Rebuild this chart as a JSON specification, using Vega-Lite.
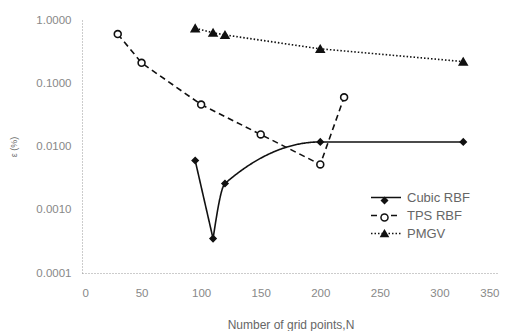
{
  "$schema": "https://vega.github.io/schema/vega-lite/v6.json",
  "width": 417,
  "height": 253,
  "autosize": {"type": "none"},
  "padding": {"left": 82, "top": 20, "right": 11, "bottom": 58},
  "background": "white",
  "config": {
    "view": {"stroke": null},
    "font": "Liberation Sans",
    "axis": {"grid": false, "ticks": false, "domainColor": "#999", "domainDash": [1, 2], "domainWidth": 1, "labelColor": "#888", "labelFontSize": 11.5, "titleColor": "#666", "titleFontSize": 12, "titleFontWeight": "normal"}
  },
  "data": {
    "values": [
      {"series": "Cubic RBF", "N": 95, "err": 0.006},
      {"series": "Cubic RBF", "N": 110, "err": 0.00035},
      {"series": "Cubic RBF", "N": 120, "err": 0.0026},
      {"series": "Cubic RBF", "N": 200, "err": 0.0118},
      {"series": "Cubic RBF", "N": 320, "err": 0.0118},
      {"series": "TPS RBF", "N": 30, "err": 0.6},
      {"series": "TPS RBF", "N": 50, "err": 0.21},
      {"series": "TPS RBF", "N": 100, "err": 0.046},
      {"series": "TPS RBF", "N": 150, "err": 0.0155},
      {"series": "TPS RBF", "N": 200, "err": 0.0052},
      {"series": "TPS RBF", "N": 220, "err": 0.06},
      {"series": "PMGV", "N": 95, "err": 0.74},
      {"series": "PMGV", "N": 110, "err": 0.63},
      {"series": "PMGV", "N": 120, "err": 0.58},
      {"series": "PMGV", "N": 200, "err": 0.35},
      {"series": "PMGV", "N": 320, "err": 0.22}
    ]
  },
  "encoding": {
    "x": {"field": "N", "type": "quantitative", "scale": {"domain": [0, 350], "nice": false}, "axis": {"values": [0, 50, 100, 150, 200, 250, 300, 350], "title": "Number of grid points,N", "labelPadding": 14, "titleY": 46}},
    "y": {"field": "err", "type": "quantitative", "scale": {"type": "log", "domain": [0.0001, 1], "nice": false}, "axis": {"values": [0.0001, 0.001, 0.01, 0.1, 1], "format": ".4f", "title": "ε (%)", "titleFontSize": 9, "labelPadding": 11, "titleX": -64}}
  },
  "layer": [
    {
      "transform": [{"filter": "datum.series === 'Cubic RBF' && datum.N <= 110"}],
      "mark": {"type": "line", "color": "#111", "strokeWidth": 1.6},
      "encoding": {
        "strokeDash": {"field": "series", "type": "nominal", "scale": {"domain": ["Cubic RBF", "TPS RBF", "PMGV"], "range": [[1, 0], [6, 4], [1.5, 2]]}, "legend": {"title": null, "orient": "none", "legendX": 288, "legendY": 169, "symbolType": "M-1,0H3", "symbolSize": 225, "symbolStrokeWidth": 1.5, "symbolStrokeColor": "#111", "labelColor": "#666", "labelFontSize": 13, "rowPadding": 2, "labelOffset": 20}}
      }
    },
    {
      "transform": [{"filter": "datum.series === 'Cubic RBF' && datum.N >= 110"}],
      "mark": {"type": "line", "interpolate": "monotone", "color": "#111", "strokeWidth": 1.6},
      "encoding": {
        "strokeDash": {"field": "series", "type": "nominal"}
      }
    },
    {
      "transform": [{"filter": "datum.series !== 'Cubic RBF'"}],
      "mark": {"type": "line", "color": "#111", "strokeWidth": 1.6},
      "encoding": {
        "strokeDash": {"field": "series", "type": "nominal"},
        "detail": {"field": "series"}
      }
    },
    {
      "mark": {"type": "point", "stroke": "#111", "strokeWidth": 1.6, "opacity": 1},
      "encoding": {
        "shape": {"field": "series", "type": "nominal", "sort": ["Cubic RBF", "TPS RBF", "PMGV"], "scale": {"range": ["diamond", "circle", "triangle-up"]}, "legend": {"title": null, "orient": "none", "legendX": 296, "legendY": 174, "symbolSize": 45, "symbolStrokeColor": "#111", "symbolStrokeWidth": 1.5, "symbolOpacity": 1, "symbolFillColor": {"expr": "datum.value === 'TPS RBF' ? 'white' : '#111'"}, "labelExpr": "''", "labelFontSize": 13, "rowPadding": 2, "labelOffset": 0, "encode": {"symbols": {"update": {"fill": {"signal": "datum.value === 'TPS RBF' ? 'white' : '#111'"}, "stroke": {"value": "#111"}, "strokeWidth": {"value": 1.5}, "strokeOpacity": {"value": 1}, "size": {"signal": "datum.value === 'Cubic RBF' ? 35 : 50"}}}}}},
        "fill": {"field": "series", "type": "nominal", "sort": ["Cubic RBF", "TPS RBF", "PMGV"], "scale": {"range": ["#111", "white", "#111"]}, "legend": null},
        "size": {"field": "series", "type": "nominal", "sort": ["Cubic RBF", "TPS RBF", "PMGV"], "scale": {"range": [35, 60, 50]}, "legend": null}
      }
    }
  ]
}
